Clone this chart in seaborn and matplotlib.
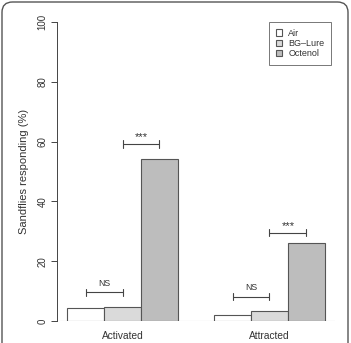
import matplotlib
matplotlib.use("Agg")
import matplotlib.pyplot as plt
import seaborn as sns
import pandas as pd
from matplotlib.patches import FancyBboxPatch

# Data
categories = ["Activated", "Attracted"]
treatments = ["Air", "BG\u2013Lure", "Octenol"]
air = [4.2, 2.0]
bg_lure = [4.7, 3.2]
octenol = [54.2, 26.0]
ns_heights = [9.6, 8.1]
star_heights = [59.2, 29.5]
ns_labels = ["NS", "NS"]
star_labels = ["***", "***"]
colors = ["#ffffff", "#dadada", "#bdbdbd"]

rows = []
for t, vals in zip(treatments, [air, bg_lure, octenol]):
    for c, v in zip(categories, vals):
        rows.append({"Category": c, "Treatment": t, "Value": v})
df = pd.DataFrame(rows)

sns.set_style("white")
plt.rcParams["font.family"] = ["Liberation Sans", "DejaVu Sans"]

W, H = 351, 343
fig = plt.figure(figsize=(W / 100, H / 100), dpi=100)
ax = fig.add_axes([57 / W, (H - 321) / H, (335 - 57) / W, (321 - 22) / H])

group_w = 0.755
sns.barplot(data=df, x="Category", y="Value", hue="Treatment", order=categories,
            hue_order=treatments, palette=colors, saturation=1, width=group_w,
            edgecolor="#555555", linewidth=0.8, ax=ax, errorbar=None)

ax.set_xlim(-0.4456, 1.4456)
ax.set_ylim(0, 100)
ax.set_yticks([0, 20, 40, 60, 80, 100])
ax.set_yticklabels(["0", "20", "40", "60", "80", "100"], rotation=90, va="center",
                   fontsize=7, color="#333333")
ax.tick_params(axis="y", length=4.3, width=0.7, color="#444444", pad=2.5, left=True)
ax.tick_params(axis="x", length=0, pad=7, labelsize=7.3, labelcolor="#333333")
ax.set_xlabel("")
ax.set_ylabel("Sandflies responding (%)", fontsize=8, color="#333333", labelpad=6)

for s in ["top", "right", "bottom"]:
    ax.spines[s].set_visible(False)
ax.spines["left"].set_color("#444444")
ax.spines["left"].set_linewidth(0.7)
ax.axhline(0, color="#bbbbbb", lw=0.8, zorder=0.5)

# significance brackets
bw = group_w / 3
def bracket(x1, x2, y, label, size, gap):
    ax.plot([x1, x2], [y, y], color="#444444", lw=0.8, clip_on=False)
    for xx in (x1, x2):
        ax.plot([xx, xx], [y - 1.2, y + 1.2], color="#444444", lw=0.8, clip_on=False)
    ax.text((x1 + x2) / 2, y + gap, label, ha="center", va="bottom", fontsize=size,
            color="#333333")

for i in range(len(categories)):
    bracket(i - bw, i, ns_heights[i], ns_labels[i], 6.3, 1.6)
    bracket(i, i + bw, star_heights[i], star_labels[i], 8, 0.6)

leg = ax.legend(loc="upper right", bbox_to_anchor=(0.986, 1.0), borderaxespad=0,
                fontsize=6.5, frameon=True, fancybox=False, handlelength=0.7,
                handleheight=0.7, handletextpad=0.7, labelspacing=0.15,
                borderpad=0.75, title=None)
leg.get_frame().set_edgecolor("#555555")
leg.get_frame().set_linewidth(0.7)
for t in leg.get_texts():
    t.set_color("#333333")

frame = FancyBboxPatch((2 / W, -0.05), (346 / W), 1.05 - 2 / H - 0.0,
                       boxstyle="round,pad=0,rounding_size=0.03",
                       transform=fig.transFigure, fill=False,
                       edgecolor="#555555", linewidth=1.0, clip_on=False)
fig.patches.append(frame)

fig.savefig("out.png", dpi=100)
